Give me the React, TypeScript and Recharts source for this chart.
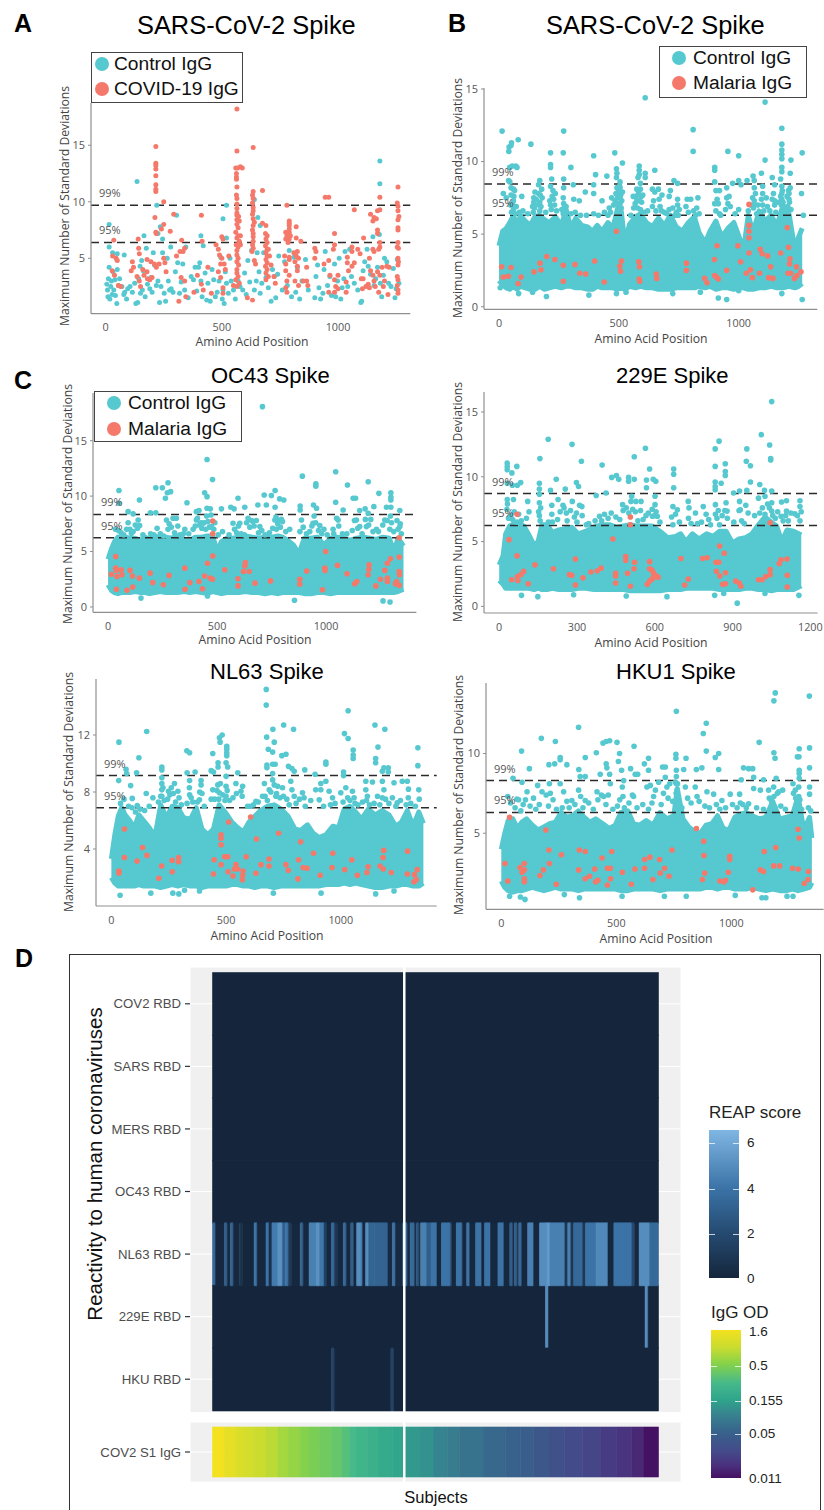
import React from 'react'
import {
  ComposedChart, Scatter, Area, XAxis, YAxis, ReferenceLine,
  BarChart, Bar, Cell, CartesianGrid,
} from 'recharts'

type Pair = [number, number]
type Stop = [number, string]

const TEAL = '#56c8d0'
const RED = '#f5796a'
const SANS = '"Liberation Sans", Arial, sans-serif'
const PLOT_FONT = '"Open Sans", sans-serif'

// ---- panel A, every point readable ----
const aControl: Pair[] = [[15,8],[135,11.8],[220,9.7],[235,7.8],[305,8.8],[505,8.5],[520,9.7],[640,10.2],[655,8.6],[665,7.9],[1180,13.6],[1180,11.6],[1178,7.1],[410,7],[165,7],[225,7.2],[245,6.7],[280,6],[15,6],[30,5.5],[50,5.4],[80,5.3],[520,6.8],[5,2.7],[8,2.2],[10,1.6],[12,3.2],[15,4.2],[18,1.4],[22,2.5],[25,3],[28,1.8],[32,3.8],[35,2.2],[40,3.1],[42,1.7],[48,1],[50,4],[55,2.6],[60,3.2],[70,2.5],[78,1.8],[82,2],[90,1.4],[95,2.3],[105,2.5],[115,2],[125,2.8],[130,1],[138,1.1],[142,3.2],[148,4.3],[150,1.9],[155,4.8],[158,2.2],[162,3.9],[170,1.6],[175,5.9],[180,2.7],[190,2.3],[195,3.3],[200,2],[205,5.5],[210,4.4],[218,2.6],[225,3],[232,1.1],[238,2.5],[245,5.5],[252,1.9],[258,1.2],[265,5],[270,3],[275,2.2],[282,2.3],[290,2],[300,3.8],[310,4.6],[318,1.9],[325,2.9],[332,4.5],[340,2.2],[345,6],[355,1.5],[368,3.4],[378,3.1],[385,4.2],[392,2.1],[400,4.2],[405,4.6],[410,3],[415,1.6],[420,6.1],[428,3.7],[435,1.3],[440,2.8],[450,1.2],[458,4],[465,3.1],[472,1.6],[480,2],[488,3],[495,5.1],[502,1.4],[505,2.2],[510,1],[515,3.8],[520,2.8],[528,1.9],[535,5],[540,3],[550,2.2],[558,1.4],[570,3],[578,2.5],[590,2.2],[598,3.7],[605,1.8],[612,4.8],[620,2.9],[628,5.7],[640,2.2],[648,3],[652,5.5],[660,3.8],[665,1.9],[672,2.8],[680,5.5],[690,3.3],[700,2.4],[712,1.2],[718,4],[725,3.4],[732,1.5],[740,3.6],[745,5.2],[760,2.2],[770,4.7],[782,2.6],[790,5.7],[800,1.6],[810,5.1],[818,2],[825,4.2],[835,1.4],[845,3],[860,4.9],[872,2.2],[900,1.5],[905,3.4],[912,4.4],[918,2.4],[925,1.4],[935,1.9],[940,4],[945,5.6],[955,2.6],[965,3.4],[972,1.7],[985,4.5],[990,1.6],[998,3],[1005,5],[1012,1.4],[1018,2.4],[1025,3.2],[1030,5.6],[1042,2.5],[1050,5.8],[1058,3.4],[1070,2.8],[1085,2.2],[1098,1.1],[1102,1.2],[1108,3.9],[1115,4.7],[1125,5.8],[1130,4.3],[1140,3.6],[1150,6.9],[1155,2.6],[1162,3.2],[1170,4.2],[1182,2.8],[1188,1.6],[1195,3.5],[1200,5],[1210,4.7],[1218,2.8],[1228,2.5],[1238,4.1],[1245,1.5],[1250,2.3],[1255,4.9],[1262,2.8]]
const aCovid: Pair[] = [[216,14.9],[216,13.4],[216,13.2],[216,12.9],[216,12.3],[216,11.5],[216,11.1],[216,10.9],[250,10],[212,8.6],[216,7.3],[218,7.2],[250,8],[240,7.6],[278,7.4],[293,8.9],[327,6.6],[412,8.8],[500,6.9],[505,6.7],[565,18.2],[565,14.5],[560,13],[568,13],[580,13.1],[588,13],[563,12.5],[563,12.2],[563,12],[565,11.3],[563,10.6],[565,10.3],[565,9.8],[565,9.4],[565,9],[565,8.8],[572,8.7],[565,8.4],[575,8.3],[565,8],[570,7.7],[560,7.3],[570,7],[580,7],[565,6.8],[575,6.5],[562,6.2],[570,6],[580,6.2],[565,5.7],[565,5.3],[570,5],[565,4.7],[572,4.4],[565,4],[565,3.7],[570,3.4],[560,3.1],[575,2.8],[550,2.6],[565,2.5],[635,14.8],[635,10.9],[632,10.6],[635,10.3],[632,9.9],[635,9.5],[635,9.2],[632,8.9],[635,8.5],[640,8.2],[635,7.9],[632,7.5],[635,7.2],[635,6.9],[635,6.5],[632,6.2],[635,5.9],[630,5.6],[640,4.8],[645,4.5],[632,1.3],[610,1.5],[675,11],[675,8.1],[690,7.9],[688,7.2],[695,7],[690,6.7],[695,6.4],[688,6.1],[695,5.8],[690,5.5],[695,5.2],[690,4.9],[695,4.6],[688,4.3],[695,4],[690,3.7],[700,3.4],[690,3.1],[700,5.8],[705,5.2],[712,4.4],[725,3.4],[730,2.8],[780,9.7],[790,8.3],[790,8.1],[790,7.9],[790,7.6],[775,7.3],[790,7.3],[780,7],[795,7],[775,6.7],[790,6.7],[785,6.4],[770,5.2],[790,5.1],[775,4.5],[790,4.9],[775,3.9],[790,3.5],[780,3],[775,2.4],[780,2],[820,7.8],[820,6.8],[840,6.5],[810,5.5],[820,5.2],[825,5.6],[815,4.7],[825,4.3],[825,3.9],[830,5],[815,3],[830,2.6],[850,3],[865,3],[870,2.6],[865,4.2],[900,5.9],[905,5.6],[900,5],[945,10.4],[960,10.4],[985,7.2],[985,6.2],[980,5.8],[960,4.8],[940,4.5],[965,3.5],[985,3.1],[990,2.5],[985,2],[1000,2.3],[1000,3.5],[960,2],[1040,5.1],[1040,4.6],[1035,2.9],[1035,2],[1070,9.3],[1060,6],[1085,5.8],[1060,5.6],[1095,5.4],[1100,3.2],[1110,6.8],[1108,3.2],[1105,2.3],[1120,2.5],[1060,4.3],[1045,3.9],[1070,4.6],[1140,8.9],[1155,8.6],[1165,8.5],[1150,8.3],[1170,9.2],[1180,9.3],[1180,10.4],[1170,7.5],[1170,7.2],[1180,6.4],[1180,6],[1175,5.8],[1150,5.8],[1155,5.6],[1135,5],[1140,3.9],[1150,3.5],[1155,3],[1170,3.8],[1180,3.5],[1190,4.2],[1195,2.5],[1200,3],[1210,4.3],[1220,4.2],[1215,1.8],[1160,2.5],[1130,2.7],[1135,2.4],[1175,2],[1258,11.3],[1255,9.9],[1258,9.6],[1258,9.2],[1262,8.7],[1258,8.4],[1258,7.7],[1258,7.5],[1258,6.4],[1255,6],[1260,5.9],[1258,5],[1260,4.7],[1258,4.4],[1255,3.4],[1258,3.1],[1255,2.6],[1258,2.2],[1258,1.9],[35,6.6],[30,5.2],[45,5],[50,4.8],[28,3.9],[38,3.5],[55,2.6],[65,2.5],[110,3.9],[115,4.7],[120,4.2],[140,6.7],[142,5.9],[145,5.4],[135,3.4],[145,3],[150,2.5],[160,4],[165,3.5],[178,4.9],[178,3.8],[180,3.2],[190,3.1],[195,4.7],[200,3.3],[210,4.5],[218,4.2],[230,4.5],[250,5],[255,4.6],[260,3.8],[305,5.2],[320,5.6],[325,3.3],[333,5.6],[340,5.9],[340,3],[315,1.2],[345,1.6],[380,2],[395,3.5],[412,2.7],[415,6.5],[420,2.2],[440,4.2],[455,1.9],[475,6.2],[485,5.8],[490,5.3],[495,4.5],[485,3.8],[495,3.3],[500,5],[505,2.4],[505,1.9],[510,4.5],[515,4],[530,5.2]]

// ---- dense panels: the thousands of overlapping peptides below ~6 SD are a
// range band, the separable points are listed one by one ----
const bBandX = [0,15,30,45,60,75,90,110,130,150,170,190,210,235,260,280,300,320,345,370,390,410,430,455,475,495,510,525,545,570,590,615,640,665,690,715,740,765,790,815,835,860,880,905,930,955,980,1000,1020,1040,1060,1085,1110,1135,1160,1185,1210,1235,1250,1265]
const bBandHigh = [4.2,5.2,5.4,5.8,6.3,5.6,6.3,5.9,5.6,6.2,6.3,6,5.8,6.2,5.6,6.7,5.4,6.1,5.6,5.5,5.2,5.6,5.2,5.8,5.4,6.8,6.6,4.4,5.7,6.2,6.4,5.8,5.5,6.1,5.6,6.3,5.5,5.2,5.8,6.2,5.1,4.4,5.2,5.9,4.8,5.4,5.8,4.9,3.9,6.3,5.1,6.6,5.9,6.3,5.6,7,6.4,3.9,4.8,5.4]
const bBandLow = [1.8,1.5,1.3,1.2,1.4,1.2,1.4,1.3,1.2,1.2,1.4,1.2,1.3,1.4,1.3,1.4,1.4,1.3,1.3,1.2,1.2,1.4,1.3,1.3,1.3,1.2,1.3,1.2,1.4,1.3,1.4,1.3,1.3,1.2,1.2,1.2,1.3,1.3,1.3,1.3,1.4,1.3,1.4,1.2,1.3,1.3,1.2,1.3,1.3,1.2,1.2,1.3,1.3,1.4,1.3,1.3,1.4,1.3,1.4,1.6]
const bControl: Pair[] = [[13,12.1],[41,10.7],[42,11],[50,11.1],[52,11.3],[80,11.5],[133,11.2],[215,10.6],[270,12.1],[268,10.6],[610,14.4],[810,12.2],[810,10.7],[1110,14.1],[1180,12.3],[1180,11.2],[1180,10.8],[1180,10.5],[1180,10.2],[1180,9.6],[1180,9.3],[1218,10.1],[1215,9.2],[1265,10.6],[1110,10.1],[955,10.7],[1000,10.4],[395,10.4],[483,10.6],[515,9.9],[490,9.5],[492,9.2],[585,9.7],[585,9.4],[585,9.1],[610,9.2],[610,8.9],[650,9.4],[300,9.6],[215,9.8],[215,9.6],[220,8.8],[70,9.7],[75,9.6],[45,9.6],[55,9.7],[40,8.7],[45,8.6],[50,8.2],[60,8.1],[65,8],[50,7.7],[18,7.8],[30,7.5],[60,7.3],[95,7.6],[60,6.7],[170,8.7],[165,8.4],[150,7.9],[145,7.5],[145,7.2],[172,7.7],[170,7.2],[215,8.3],[225,8],[235,7.8],[270,8.8],[270,8.2],[268,7.5],[270,7.1],[280,6.9],[310,8.4],[312,7.4],[335,7.3],[360,7.9],[395,8.4],[395,7.8],[403,9.1],[450,9],[430,7.3],[470,7.5],[490,8.9],[505,8.6],[505,8.2],[505,7.9],[505,7.5],[505,7.1],[510,6.8],[460,6.8],[580,8.9],[590,8.5],[590,8.1],[575,8.1],[560,7.6],[600,7.7],[575,7.3],[595,7.2],[640,8.1],[650,7.9],[665,8.1],[680,7.7],[715,8],[710,7.6],[745,8.5],[730,8.7],[710,6.7],[745,7.4],[745,7],[740,6.5],[780,6.9],[785,7.4],[800,7.4],[830,7.5],[825,6.8],[900,9.6],[900,9.4],[900,8.6],[905,8],[920,8],[900,7.1],[915,7.1],[920,6.4],[950,8.2],[950,7.5],[955,7.1],[960,7.6],[975,8.5],[1000,8.7],[1010,8.4],[1000,6.7],[1035,8.7],[1060,9],[1065,8.7],[1065,8.2],[1065,7.3],[1065,7],[1095,9.2],[1100,8.3],[1100,7.8],[1140,8.9],[1150,8.4],[1140,7.4],[1150,7],[1175,8.8],[1180,8.3],[1180,7.8],[1180,7.4],[1215,8.2],[1210,7.8],[1210,7.4],[1205,6.9],[1262,7.8],[1270,6.3],[5,1.3],[82,0.9],[140,1],[198,0.7],[375,0.8],[490,0.9],[530,1],[725,0.9],[840,1],[915,0.6],[950,0.5],[1180,0.9],[1265,0.5],[1000,1.1]]
const bColumns: Pair[] = [[48,7],[52,6.5],[58,7],[62,7.6],[68,6.4],[72,6.9],[85,6.5],[100,6.6],[120,6.4],[140,6.9],[143,6.5],[148,6.8],[152,7],[155,7.4],[165,7.8],[168,7],[170,6.6],[175,6.9],[178,8.1],[180,7.5],[195,6.5],[212,7.3],[215,7],[218,6.7],[222,7.6],[228,7.4],[232,7],[240,6.6],[262,6.7],[268,6.4],[272,6.8],[276,6.3],[300,6.4],[318,6.5],[340,6.3],[365,6.3],[395,6.4],[415,6.3],[440,6.5],[455,6.3],[465,6.5],[478,7],[484,7.3],[488,7.8],[492,8.2],[495,7.5],[498,7.1],[500,8],[503,8.3],[508,7.7],[512,7.3],[515,7.9],[550,6.3],[562,6.8],[568,7.1],[572,7.6],[578,6.8],[582,7.8],[586,7.3],[590,6.7],[594,7.6],[605,6.5],[620,6.6],[640,6.9],[645,7.3],[655,6.6],[668,7.4],[672,6.9],[678,6.6],[690,6.5],[700,6.4],[725,6.8],[735,6.3],[748,6.3],[752,6.7],[790,6.5],[812,6.6],[820,6.3],[835,6.4],[905,6.6],[910,7.4],[925,6.3],[945,6.7],[965,6.9],[985,6.4],[1040,6.6],[1050,7],[1058,7.5],[1062,6.8],[1070,7.8],[1075,6.4],[1080,7],[1095,7.4],[1100,7],[1105,6.6],[1115,7.5],[1120,6.9],[1130,6.6],[1145,7.8],[1150,7.3],[1155,6.5],[1165,7.2],[1175,7.6],[1178,7],[1182,8],[1185,7.2],[1195,6.7],[1202,7.6],[1208,8],[1212,7.2],[1218,6.7]]
const bMalaria: Pair[] = [[11,2.75],[18,2.05],[39,2.1],[50,2.7],[80,1.6],[92,2.05],[146,2.4],[171,3],[175,2.55],[199,3.45],[233,3.25],[268,2.85],[268,1.75],[317,2.9],[337,2.3],[362,2.25],[399,3.15],[439,1.7],[490,5.2],[504,2.8],[511,3.15],[507,2.45],[583,3.1],[586,2.75],[585,1.9],[587,1.75],[656,2.25],[658,1.95],[782,3],[782,2.5],[858,1.95],[868,1.65],[899,3.25],[900,2.15],[907,2.05],[915,1.9],[910,4.2],[950,2.5],[997,4.2],[1008,3.1],[1032,2.3],[1043,7.05],[1043,5.6],[1043,5.2],[1043,4.75],[1043,3.7],[1049,2.55],[1057,2],[1087,2.3],[1090,3.95],[1098,3.65],[1121,3.5],[1125,2],[1133,2.75],[1143,1.95],[1175,3.7],[1203,5.45],[1208,4.1],[1206,2.3],[1214,3.3],[1212,2.95],[1217,2.3],[1233,1.95],[1241,2.75],[1243,2.15],[1260,2.4]]

const cBandX = [0,15,30,45,60,80,100,125,150,170,190,215,240,265,290,320,350,375,400,430,455,480,500,520,545,570,600,630,660,690,720,750,780,800,825,850,875,900,930,960,990,1020,1050,1080,1110,1140,1170,1200,1230,1260,1290,1310,1330,1355]
const cBandHigh = [4.3,5.2,5.9,6.3,6.2,6.3,6.2,6.2,6,6.3,6.1,6.4,6.2,6.3,6.2,6.4,6.1,6,6.3,6.3,6.4,6.4,5,5.9,6.2,6.2,6.3,6.4,6.3,6.2,6.3,6.3,6.4,6.3,6,5.6,4.8,6.2,6.2,6.3,5.6,6.2,6.3,6.2,6,6.2,6.3,6.2,6.1,6.3,6.2,5,6.2,5.5]
const cBandLow = [2,1.5,1.3,1.2,1.3,1.3,1.3,1.4,1.3,1.3,1.2,1.3,1.4,1.3,1.3,1.3,1.4,1.3,1.4,1.3,1.2,1.4,1.3,1.2,1.3,1.3,1.3,1.4,1.3,1.3,1.2,1.3,1.2,1.3,1.3,1.3,1.3,1.2,1.2,1.3,1.3,1.2,1.3,1.3,1.3,1.3,1.3,1.3,1.3,1.3,1.3,1.3,1.4,1.6]
const cControl: Pair[] = [[708,18.07],[454,13.3],[479,11.5],[1044,12.2],[891,11.8],[1193,11.3],[1098,11],[953,11.1],[953,10.9],[50,10.5],[219,10.75],[249,10.75],[275,11.2],[287,10.4],[272,10.3],[263,9.8],[443,10.3],[454,9.95],[716,10.1],[749,10.05],[766,10.5],[787,9.75],[806,9.65],[596,9.8],[1242,10.25],[1297,10.3],[1297,9.9],[1297,9.65],[1124,9.8],[1135,9.8],[1044,9.45],[144,9.65],[50,9.35],[362,9.4],[1219,9.05],[1179,8.85],[1154,8.7],[687,9.2],[726,9.2],[766,9],[627,9],[520,8.85],[563,9],[578,8.85],[881,9.1],[881,8.75],[942,9.2],[956,8.9],[1078,8.75],[1277,9],[1297,9],[92,8.6],[115,8.4],[405,8.6],[417,8.7],[454,8.9],[469,8.85],[194,8.5],[219,8.5],[1193,8.45],[1338,8.7],[34,7],[92,7.6],[138,7.85],[145,7.35],[107,6.65],[268,7.85],[298,8],[313,8],[275,7],[352,7],[405,7.85],[420,7.4],[436,7.55],[474,7.25],[573,7.55],[604,7.55],[642,8],[665,7.7],[696,7.25],[765,7.85],[795,7.9],[772,7],[833,7],[887,7.85],[940,7.55],[971,7.35],[1032,7],[1055,7.85],[1139,7.85],[1154,7.25],[1185,7.25],[1231,7],[1269,7.85],[1292,7],[1338,7.25],[151,0.8],[855,0.6],[1261,0.55],[1293,0.45],[456,1]]
const cColumns: Pair[] = [[48,6.9],[60,6.7],[72,6.5],[85,7],[100,7],[115,6.8],[125,7.4],[135,7.1],[160,6.5],[195,6.6],[210,6.5],[225,7.1],[240,6.6],[255,6.4],[280,7.5],[290,7.2],[305,6.7],[320,7.3],[330,6.5],[345,6.6],[370,6.6],[390,7],[400,7.3],[410,8],[425,7.6],[430,7.1],[440,7.6],[448,7],[452,8.2],[458,7.7],[465,7.2],[472,8.3],[485,7],[490,7.6],[505,6.5],[525,6.8],[555,6.5],[580,7],[590,6.7],[598,7.3],[610,6.6],[625,6.5],[635,7.6],[650,7.2],[658,7.8],[670,7.3],[680,7.8],[690,6.7],[705,6.9],[720,6.5],[740,6.7],[755,7.1],[770,8.1],[778,7.5],[785,7.8],[790,7.2],[800,7.7],[815,6.8],[880,6.8],[895,7.2],[910,6.6],[925,6.8],[935,7.3],[945,8.2],[952,7.6],[965,6.9],[980,6.6],[990,7],[1005,6.5],[1035,6.6],[1048,8],[1058,7.3],[1075,6.6],[1095,6.6],[1120,6.9],[1130,7.8],[1145,7.1],[1165,6.6],[1180,7.9],[1195,7.4],[1205,7.9],[1215,6.8],[1240,6.8],[1260,7.4],[1280,7.8],[1295,8.2],[1300,7.6],[1310,6.8],[1325,7.8],[1330,7],[1340,7.5],[1345,6.6]]
const cMalaria: Pair[] = [[15,2.95],[35,4.55],[35,3.5],[38,3.3],[41,2.75],[38,1.6],[60,3.35],[64,2.9],[87,1.5],[101,3.3],[112,2.8],[113,1.8],[144,2.6],[193,3.05],[205,2.2],[254,2],[280,2.85],[352,3.5],[353,1.6],[375,2.2],[417,2.3],[433,1.65],[443,2.8],[456,3.95],[469,2.6],[479,2.5],[480,7.75],[480,6.6],[480,4.6],[535,3.35],[596,2.55],[596,1.9],[630,4],[627,3.7],[621,3.2],[647,3.2],[674,2.15],[745,2.35],[879,2.5],[879,2.05],[911,3.25],[983,1.55],[994,3.5],[995,3.3],[998,5],[1052,3.75],[1096,3],[1131,2.1],[1141,2.3],[1193,2.9],[1196,3.4],[1197,3.8],[1228,1.9],[1249,2.5],[1269,3.3],[1281,3.95],[1281,2.6],[1281,2.3],[1295,4.35],[1323,2.3],[1318,2.1],[1335,6.25],[1335,4.5],[1335,3.2],[1336,2.9],[1335,1.95]]

const eBandX = [0,15,25,40,60,75,95,115,135,150,165,185,205,230,255,280,305,335,365,395,425,455,480,505,530,560,590,620,650,680,700,720,745,770,800,825,850,875,900,925,950,975,1000,1025,1050,1070,1090,1110,1135,1165]
const eBandHigh = [3.2,3.9,5.6,6.2,6.4,6.3,6.2,5.5,4.7,5,6.3,6.3,5.7,5.9,6,6.1,5.6,5.8,6.1,6.3,6.3,6.1,6.2,6.3,6.2,6.2,6.2,5.8,5.3,5.4,5.6,5,5.6,5.2,5.6,5.4,5.8,5.8,4.9,5.2,5.3,5.6,6.3,6.9,6.5,6.2,5,5.9,5.8,5.5]
const eBandLow = [2,1.7,1.4,1.4,1.4,1.4,1.4,1.4,1.3,1.4,1.3,1.3,1.4,1.3,1.3,1.3,1.4,1.4,1.3,1.3,1.3,1.3,1.3,1.2,1.2,1.2,1.2,1.2,1.3,1.3,1.3,1.4,1.4,1.4,1.4,1.4,1.3,1.3,1.3,1.3,1.4,1.4,1.3,1.3,1.2,1.3,1.3,1.3,1.3,1.6]
const eControl: Pair[] = [[1051,15.8],[1011,13.25],[848,12.75],[833,12.15],[1043,12.45],[955,12.15],[281,12.5],[189,12.9],[564,12.2],[521,11.55],[157,11.4],[317,11.2],[397,10.9],[1047,11.4],[1047,11.3],[953,11.2],[969,10.85],[31,11.05],[31,10.8],[31,10.55],[68,10.8],[49,10.3],[580,10.6],[673,10.6],[673,10.2],[833,10.8],[872,11],[872,10.4],[872,10.1],[434,9.95],[452,10.1],[461,9.8],[499,9.95],[499,9.65],[521,9.8],[568,9.75],[594,9.8],[604,9.65],[220,9.8],[298,9.55],[306,9.25],[255,9.05],[83,9.55],[70,9.35],[51,9.35],[31,9.5],[155,9.5],[155,9.05],[155,8.65],[673,9.15],[833,9.6],[833,9.25],[833,9],[856,9.5],[969,9.6],[1005,9.4],[1023,8.95],[1051,8.9],[904,8.75],[927,8.9],[955,8.95],[568,9.15],[412,8.75],[198,8.95],[31,8.25],[55,8.25],[110,8.1],[155,8],[203,7.8],[203,7.1],[227,8.25],[246,7.8],[282,8.1],[310,7.8],[319,7.7],[259,7.2],[298,7.2],[374,8.55],[336,6.3],[387,6.95],[406,7.1],[432,7.2],[476,7.85],[511,8.5],[527,8.1],[547,8.1],[566,7],[601,7.85],[601,8.5],[591,6.95],[610,6.95],[670,7.7],[687,7.45],[729,8.1],[732,7.6],[757,7.2],[787,7.7],[798,7.1],[808,6.7],[834,7.1],[834,7.85],[875,8],[879,7.35],[927,8.1],[930,7.45],[951,7.8],[1000,8.35],[1025,8.5],[1051,8],[1051,7.35],[1089,8.05],[1108,8.15],[1160,8.15],[1160,7.7],[1140,7.15],[1108,7.35],[1087,6.95],[1074,7.3],[86,0.85],[149,0.75],[287,0.9],[490,0.8],[647,0.75],[831,0.85],[918,0.25],[866,1],[1156,0.85],[1025,1]]
const eColumns: Pair[] = [[30,7.5],[32,7.9],[36,6.8],[45,7],[52,6.7],[58,7.3],[68,6.5],[75,7.1],[85,6.6],[105,6.8],[115,7.3],[152,7.3],[155,7],[158,6.6],[160,7.6],[190,6.5],[205,6.5],[225,6.7],[235,7.3],[250,7.6],[262,6.6],[275,7.4],[290,6.9],[300,6.5],[320,7],[345,6.4],[370,6.6],[395,6.6],[420,6.8],[450,6.9],[465,6.7],[478,7.4],[490,7.6],[500,7.2],[508,8.1],[515,7.5],[525,7.3],[535,6.6],[545,7.4],[555,6.7],[575,7.2],[590,7.5],[600,7],[605,7.3],[620,6.5],[665,6.9],[670,6.3],[680,7.1],[695,6.5],[730,6.8],[740,6.4],[765,6.4],[780,6.5],[815,6.3],[840,6.8],[845,7.4],[850,6.3],[860,7],[870,7.4],[880,6.8],[905,6.5],[925,7.4],[935,6.6],[945,6.4],[960,7.2],[985,7],[1005,7.2],[1015,7.6],[1025,7.1],[1035,7.9],[1042,7.6],[1055,7],[1065,6.8],[1095,6.6],[1105,7],[1115,6.6],[1125,7.2],[1150,7],[1165,7.3],[1160,6.6]]
const eMalaria: Pair[] = [[38,5.15],[48,2.05],[69,7.1],[69,3.9],[70,2.3],[72,2],[84,2.45],[94,2.7],[112,1.75],[138,3.2],[209,2.9],[271,2.45],[280,2.4],[294,3.65],[294,1.65],[323,2.2],[354,2.65],[378,2.75],[393,2.95],[438,5.2],[449,2.55],[449,2.35],[449,1.8],[488,3.85],[488,3.55],[495,2.55],[506,6.9],[506,6.3],[506,1.55],[520,2.9],[522,3.4],[571,1.7],[580,3.45],[580,2.9],[580,1.95],[589,2.8],[587,2.05],[595,2.6],[594,2.2],[598,2.4],[607,2.35],[613,2.25],[701,3.7],[715,1.65],[729,2.1],[784,3.7],[802,3.75],[836,3.4],[838,2.7],[847,3.4],[850,4.65],[851,2.35],[862,1.7],[868,4.1],[873,2.6],[873,1.75],[912,1.95],[926,1.8],[932,1.55],[1000,2.05],[1014,2.05],[1028,2.3],[1045,2.85],[1045,2.45],[1045,6.45],[1080,3.3],[1087,3.6],[1110,3.65],[1111,2.4],[1111,1.5]]

const nBandX = [0,15,30,45,60,80,100,120,140,165,190,215,240,265,290,315,345,370,395,420,445,470,500,525,550,575,600,625,650,680,710,740,770,800,825,855,880,905,935,965,990,1015,1040,1065,1090,1120,1150,1180,1210,1240,1265,1290,1315,1340,1360]
const nBandHigh = [3.3,5,6.3,6.9,6.4,6,5.5,6.4,6,5.5,4.9,7.1,6.2,7,6.9,6.2,6.1,6.9,5.4,5,5.4,7.1,6.5,5.9,5.5,5.2,5.9,6.3,6.7,7,7.1,6.8,6.3,5.4,5.3,5.7,5.1,4.8,5,5.6,5.5,6.8,7,6.6,6.1,6.8,6.4,6.7,6.4,5.6,5.9,6.7,5.6,6.6,5.8]
const nBandLow = [2,1.6,1.4,1.4,1.4,1.4,1.4,1.5,1.4,1.4,1.4,1.3,1.4,1.5,1.4,1.5,1.4,1.4,1.3,1.4,1.4,1.4,1.4,1.5,1.5,1.4,1.4,1.3,1.4,1.4,1.3,1.4,1.4,1.4,1.4,1.4,1.4,1.4,1.5,1.5,1.5,1.6,1.5,1.6,1.5,1.4,1.3,1.3,1.4,1.4,1.5,1.5,1.4,1.4,1.6]
const nControl: Pair[] = [[675,15.2],[675,14.1],[1032,13.7],[751,12.7],[1149,12.7],[1192,12.4],[794,12.4],[704,12.4],[154,12.25],[33,11.5],[483,12],[471,11.8],[474,11.5],[503,11.2],[503,11],[503,10.75],[503,10.55],[677,11.85],[710,11.5],[684,11],[703,10.8],[743,10.55],[761,10.65],[1016,12.1],[1032,11.75],[1054,10.95],[1054,10.6],[1054,10.35],[1162,11.15],[1152,10.35],[1152,10.05],[1336,11.1],[329,10.9],[341,10.75],[120,10.4],[442,10.7],[465,10.05],[465,9.75],[500,10.05],[507,9.75],[678,9.9],[678,9.7],[703,9.95],[714,9.95],[935,10.1],[935,9.95],[772,9.8],[787,9.65],[797,9.45],[843,9.55],[220,9.75],[220,9.55],[64,9.6],[67,9.3],[110,9.35],[330,9.35],[365,9.4],[435,9.5],[445,9.4],[551,9.35],[703,9.3],[888,9.25],[1012,9.4],[1012,9.15],[1181,9.45],[1188,9.7],[1207,9.7],[1207,9.4],[1336,9.85],[32,8.8],[84,8.45],[91,7.55],[113,7.05],[152,7.9],[181,7.6],[220,9],[220,8.6],[220,8.15],[220,7.7],[249,8.05],[261,8.3],[275,8.6],[290,8.05],[341,8.8],[341,7.8],[348,7.6],[391,8.8],[391,8.5],[384,7.45],[442,8.15],[464,8.5],[471,7.95],[500,9.1],[500,8.4],[500,7.7],[543,8.6],[572,8.4],[565,8.05],[594,7],[630,7.35],[659,7.7],[667,8.6],[688,8.15],[703,8.85],[725,8.4],[746,8.3],[717,7.7],[782,8.75],[787,8.15],[797,7.7],[833,7.95],[840,7.6],[869,7.4],[891,8.15],[913,8.15],[906,7.45],[913,8.6],[935,8.75],[949,8.05],[964,7.6],[1000,7.95],[1022,8.3],[1051,8.05],[1058,7.6],[1109,8.75],[1109,8.15],[1116,7.7],[1138,8.7],[1181,8.75],[1188,8.15],[1181,7.6],[1232,8.65],[1246,7.25],[1268,8.75],[1290,8.75],[1294,7.6],[1340,8.15],[38,0.75],[172,0.9],[268,0.9],[294,0.85],[319,1.1],[706,0.9],[914,0.9],[1152,0.85],[1232,1.05],[384,1.05]]
const nColumns: Pair[] = [[40,7.2],[55,7.5],[75,7],[90,6.9],[105,6.6],[125,6.8],[145,6.7],[165,7],[205,7.3],[215,7.7],[225,8.3],[230,7.4],[245,7.5],[255,7.8],[270,7.9],[280,7.3],[295,7.6],[305,7.1],[330,7.2],[340,8.3],[355,7.3],[375,7.3],[385,8],[395,7.9],[405,7],[435,7.5],[450,7.5],[460,8.1],[468,7.5],[475,8.6],[485,7.8],[495,7.4],[505,8.1],[515,7.4],[530,7.6],[545,7.9],[570,7.7],[605,7],[620,7.1],[640,7.3],[670,7.7],[680,7.4],[695,8],[710,8.5],[720,7.9],[735,7.6],[750,7.7],[765,7.5],[775,7.1],[805,7.2],[820,7.5],[845,7],[925,7],[955,7.1],[975,7.2],[1010,7.3],[1030,7.6],[1040,7.4],[1062,7.2],[1075,7.1],[1095,7.3],[1112,7.4],[1125,7.1],[1145,7.2],[1160,7.7],[1170,7.1],[1195,7.5],[1210,7.2],[1225,7.6],[1240,7],[1260,7.4],[1285,7.1],[1295,8.2],[1305,7.2],[1325,7],[1342,7.5]]
const nMalaria: Pair[] = [[57,5.4],[33,2.45],[33,2.3],[57,3.4],[112,3.15],[136,4.1],[155,3.55],[207,1.95],[219,2.8],[265,3.2],[265,2.4],[293,3.4],[293,3.1],[448,3.25],[445,2.25],[478,5],[478,4.75],[478,4.3],[478,2.9],[494,3.45],[507,3.45],[511,5.9],[509,2.4],[530,2.1],[543,2.9],[536,2.6],[550,2.6],[574,2.45],[572,2.15],[571,1.85],[588,3.45],[607,6.25],[632,4.7],[630,2.3],[652,2.9],[687,3.3],[687,2.8],[729,5.1],[761,2.9],[771,2.5],[816,3.25],[813,1.9],[825,4.5],[836,2.7],[853,2.65],[881,3.7],[910,2.15],[965,3.7],[962,2.7],[1017,2.55],[1048,3.25],[1072,2.15],[1119,2.75],[1114,2.35],[1171,2.8],[1184,3.4],[1187,3.9],[1185,2.6],[1220,2.35],[1291,3.85],[1290,2.25],[1321,2.2],[1333,2.55],[1329,1.85],[1319,1.7]]

const hBandX = [0,15,30,50,70,90,110,135,160,185,210,235,260,285,310,335,360,385,410,440,470,495,520,550,575,600,630,660,690,720,750,765,790,815,840,865,890,915,940,965,990,1015,1040,1065,1090,1120,1150,1180,1210,1240,1265,1290,1315,1340,1350]
const hBandHigh = [4,5,5.8,5.9,5.3,5.7,5.9,5.5,5.2,5.4,5.6,5.7,6.3,6,6.1,6.4,6,5.7,5.9,5.6,5.3,5.5,6.3,6.4,5.6,5.5,5.8,5.5,6.3,5.9,6.1,7.8,5.9,5.4,5.1,5,5.5,5.6,6.1,5.3,5.2,6,6.2,6.3,6.1,5.9,6,7,5.9,6,6.1,7.3,5.2,6,4.7]
const hBandLow = [2,1.6,1.4,1.3,1.4,1.4,1.5,1.6,1.5,1.4,1.5,1.6,1.5,1.5,1.5,1.4,1.5,1.5,1.5,1.5,1.5,1.5,1.4,1.4,1.5,1.5,1.5,1.5,1.4,1.5,1.5,1.5,1.5,1.5,1.5,1.5,1.6,1.6,1.5,1.6,1.6,1.5,1.5,1.5,1.6,1.5,1.4,1.5,1.4,1.4,1.5,1.4,1.5,1.6,1.9]
const hControl: Pair[] = [[1191,13.8],[1185,13.3],[1339,13.6],[761,12.65],[336,11.65],[891,11.9],[878,11.25],[174,10.95],[235,10.75],[442,10.65],[456,10.75],[471,10.8],[503,10.7],[577,10.45],[413,10.05],[88,10.15],[514,10],[509,9.5],[1185,10.05],[1190,9.7],[1295,10.3],[1340,10.35],[1121,10.7],[891,10.15],[256,9.75],[256,9.6],[365,9.75],[759,9.95],[759,9.7],[803,9.7],[640,9.7],[622,9.35],[945,10],[930,9.75],[945,9],[1287,9.8],[1294,9.8],[456,9.35],[459,9.1],[207,9.3],[232,9.35],[285,9.3],[122,9.05],[337,9],[523,8.95],[562,9.05],[582,8.7],[593,8.7],[640,8.95],[701,9.15],[713,9.15],[793,9],[848,9],[872,9.1],[1053,9.1],[1075,9.05],[1093,9.05],[1295,8.95],[1295,8.75],[1340,9.1],[430,8.7],[471,8.7],[761,8.95],[761,8.55],[51,8.45],[90,8.2],[343,8.55],[365,8.55],[532,8.3],[713,8.5],[1043,8.35],[1097,8.5],[1140,8.35],[1195,8.45],[1295,8.45],[28,7.3],[68,7.15],[112,7.6],[158,8],[177,7.6],[209,8.1],[213,7.5],[256,8.1],[271,7.6],[307,7.05],[336,7.7],[365,7.05],[416,7.6],[445,7.3],[474,8.1],[526,7.9],[529,7.3],[575,7.3],[633,7.9],[648,8],[662,7.3],[684,8.2],[720,7.9],[732,8.1],[761,8.1],[764,7.7],[771,6.85],[800,7.9],[843,7.9],[851,7.3],[894,7.6],[923,7.45],[959,7.05],[995,7.45],[1036,7.45],[1039,6.9],[1075,6.85],[1097,7.8],[1126,7.7],[1162,7.7],[1184,7.9],[1206,7.6],[1223,7.7],[1268,8.1],[1278,7.7],[1293,7.9],[1293,7.3],[1340,7.9],[1340,7.45],[36,1.05],[83,1],[103,0.85],[274,1.15],[340,0.95],[525,1.05],[709,1.05],[804,1.05],[1017,1.1],[1133,0.95],[1150,0.95],[1242,1.05],[1268,1.05]]
const hColumns: Pair[] = [[40,6.9],[60,6.6],[75,7.1],[85,6.4],[95,6.8],[105,7.1],[125,6.7],[140,7.2],[150,6.5],[165,6.8],[195,7.4],[205,6.7],[225,7.1],[240,6.5],[265,6.6],[285,7],[295,6.6],[320,6.8],[345,7.3],[355,6.6],[380,6.9],[400,6.5],[420,7.1],[435,7.4],[455,6.8],[465,7.4],[485,6.5],[505,6.7],[515,7.1],[535,6.6],[555,6.9],[570,7.4],[590,6.6],[615,6.8],[640,6.5],[655,6.9],[670,7.7],[695,6.8],[705,7.5],[725,7.2],[745,7],[757,8.2],[760,7.5],[766,8.1],[785,6.6],[810,7.2],[825,6.9],[860,7],[885,6.7],[905,6.6],[935,6.8],[950,6.5],[975,6.6],[1005,6.8],[1025,6.6],[1050,6.8],[1065,6.6],[1110,6.6],[1140,6.5],[1165,7.2],[1175,7],[1185,7.3],[1190,6.6],[1200,7.5],[1215,6.7],[1235,6.5],[1270,7.5],[1280,7.2],[1285,6.8],[1298,7.1],[1305,6.5],[1335,6.6],[1345,6.4]]
const hMalaria: Pair[] = [[16,3.1],[28,2],[36,6],[81,2.85],[90,2.55],[100,3.1],[100,2.7],[100,2.15],[100,1.95],[168,2.35],[183,2.7],[194,5.2],[207,3.95],[209,3.1],[239,1.8],[261,3.65],[336,2.7],[339,3.95],[365,3.85],[365,2.15],[384,2.3],[406,2.75],[410,1.95],[420,2.05],[438,3.45],[461,1.75],[461,2.8],[474,2.8],[475,2.15],[480,3.85],[526,2.55],[565,1.8],[581,2.75],[623,3.35],[623,2.8],[646,3.5],[659,2.1],[688,3.35],[691,2.5],[710,2.8],[729,2.3],[742,3.95],[848,5.3],[874,2.1],[880,4.5],[881,3.6],[884,2.5],[950,2],[969,1.95],[974,2.05],[987,2.55],[993,3.55],[993,3.35],[1093,1.45],[1126,2.7],[1140,2.6],[1143,3.85],[1184,2.95],[1193,4.1],[1210,2.95],[1266,2.8],[1290,5.25],[1291,2.75],[1295,4.7],[1317,1.85],[1335,2.6],[1333,2.1]]

// ---- panel D ----
const rbdRows = ['COV2 RBD', 'SARS RBD', 'MERS RBD', 'OC43 RBD', 'NL63 RBD', '229E RBD', 'HKU RBD']
const emptyRuns: Pair[] = [[300, 0]]
// [subjects in the run, REAP score], left to right
const nl63Runs: Pair[] = [[2,3.5],[6,0.1],[2,3],[2,0.1],[2,3.2],[4,0.1],[2,0.8],[8,0.05],[2,4],[6,0.1],[2,4],[2,0.6],[4,4.3],[3,5.2],[2,3],[2,4],[2,1.2],[6,0.1],[2,3.2],[4,0.1],[5,4.5],[2,5.2],[3,4.2],[2,1.5],[3,0.1],[2,3.5],[2,1],[4,0.1],[2,3.5],[3,0.1],[2,3],[2,0.1],[3,5],[1,4],[2,0.1],[2,5],[4,3.3],[9,3.2],[3,0.2],[2,4],[5,0.2],[3,4],[2,0.3],[3,3.5],[1,0.1],[2,2.5],[1,0.1],[4,4.5],[3,3],[4,4],[3,0.1],[6,4],[1,2],[3,0.1],[4,4],[3,0.1],[2,4],[4,0.1],[4,4],[2,0.1],[4,4],[5,0.1],[4,4],[4,0.1],[2,3],[1,0.1],[2,3],[1,0.1],[2,3.5],[4,0.1],[4,4.5],[4,0.1],[5,5],[2,5.5],[10,4.5],[2,1],[2,4.5],[2,1],[6,3.5],[2,1],[7,4],[8,4.8],[4,0.1],[12,4],[2,2],[3,0.1],[7,5],[6,3.5]]
const e229Runs: Pair[] = [[224,0],[2,5],[65,0],[2,5],[7,0]]
const hkuRuns: Pair[] = [[80,0],[2,1.6],[38,0],[2,1.6],[178,0]]
const rowRuns = [emptyRuns, emptyRuns, emptyRuns, emptyRuns, nl63Runs, e229Runs, hkuRuns]
// [subjects in the run, IgG OD], subjects sorted by OD
const odRuns: Pair[] = [[8,1.6],[8,1.3],[6,1.12],[6,1.02],[8,0.92],[8,0.8],[7,0.66],[8,0.58],[6,0.5],[7,0.46],[8,0.41],[7,0.37],[5,0.32],[4,0.27],[8,0.24],[8,0.21],[9,0.18],[8,0.16],[10,0.13],[10,0.115],[9,0.095],[8,0.085],[16,0.07],[15,0.058],[10,0.05],[9,0.046],[11,0.038],[10,0.033],[12,0.028],[12,0.025],[11,0.021],[10,0.018],[8,0.015],[10,0.011]]
const subjectTicks = [0, 47, 95, 142, 190, 237, 284]
const groupBreak = 129

const reapStops: Stop[] = [[0,'#15263c'],[0.3,'#254a70'],[0.6,'#3a72a6'],[1,'#7fb6e3']]
const reapMax = 6.6
const reapTicks = ['6', '4', '2', '0']
const odStops: Stop[] = [[0,'#f4e11f'],[0.12,'#c8dc30'],[0.23,'#85d24a'],[0.36,'#45b98a'],[0.47,'#2fa58c'],[0.58,'#37808f'],[0.7,'#38608b'],[0.82,'#444a8a'],[0.92,'#4a2f7c'],[1,'#451162']]
const odTicks = ['1.6', '0.5', '0.155', '0.05', '0.011']

const rgb = (h: string) => [1, 3, 5].map(i => parseInt(h.slice(i, i + 2), 16))
const mix = (a: string, b: string, t: number) => {
  const ca = rgb(a), cb = rgb(b)
  return `rgb(${ca.map((v, i) => Math.round(v + (cb[i] - v) * t)).join(',')})`
}
const ramp = (stops: Stop[], t: number) => {
  for (let i = 1; i < stops.length; i++) {
    if (t <= stops[i][0]) {
      const [t0, c0] = stops[i - 1]
      const [t1, c1] = stops[i]
      return mix(c0, c1, (t - t0) / (t1 - t0))
    }
  }
  return stops[stops.length - 1][1]
}
const reapColor = (s: number) => ramp(reapStops, s / reapMax)
const odColor = (od: number) => ramp(odStops, Math.log(1.6 / od) / Math.log(1.6 / 0.011))
const cssGradient = (stops: Stop[], dir: string) =>
  `linear-gradient(${dir}, ${stops.map(([t, c]) => `${c} ${t * 100}%`).join(', ')})`

const pts = (list: Pair[]) => list.map(([x, y]) => ({ x, y }))
const band = (xs: number[], low: number[], high: number[]) =>
  xs.map((x, i) => ({ x, band: [low[i], high[i]] }))
const Dot = (color: string, r: number) => (p: any) => <circle cx={p.cx} cy={p.cy} r={r} fill={color} />

const abs = (left: number, top: number): React.CSSProperties => ({ position: 'absolute', left, top })

function Text({ x, y, size, children, bold, color }: any) {
  return (
    <div style={{ ...abs(x, y - size), fontSize: size, lineHeight: `${size * 1.2}px`, fontFamily: SANS, fontWeight: bold ? 700 : 400, color: color ?? '#000', whiteSpace: 'nowrap' }}>
      {children}
    </div>
  )
}

function Legend({ x, y, w, h, dotX, textX, second, dy1, dy2 }: any) {
  const row = (cy: number, color: string, label: string) => (
    <React.Fragment key={label}>
      <div style={{ ...abs(dotX - 7, cy - 7), width: 14, height: 14, borderRadius: 7, background: color }} />
      <div style={{ ...abs(textX, cy - 12), fontSize: 19.2, lineHeight: '24px', fontFamily: SANS, color: '#111', whiteSpace: 'nowrap' }}>{label}</div>
    </React.Fragment>
  )
  return (
    <>
      <div style={{ ...abs(x, y), width: w, height: h, boxSizing: 'border-box', border: '1.5px solid #444', background: '#fff' }} />
      {row(dy1, TEAL, 'Control IgG')}
      {row(dy2, RED, second)}
    </>
  )
}

function Scatterplot({ plot, xDomain, yDomain, xTicks, yTicks, q99, q95, control, other, bandData, xTitle, yTitle, r = 2.8 }: any) {
  const [left, top, right, bottom] = plot
  const labelStyle = { fontSize: 11, fill: '#555', fontFamily: PLOT_FONT }
  const titleStyle: React.CSSProperties = { fontSize: 12.2, fontFamily: PLOT_FONT, color: '#444', whiteSpace: 'nowrap' }
  return (
    <>
      <div style={{ ...abs(left - 40, top - 6) }}>
        <ComposedChart width={right - left + 48} height={bottom - top + 30} margin={{ top: 6, right: 8, bottom: 0, left: 0 }}>
          <XAxis
            type="number" dataKey="x" domain={xDomain} ticks={xTicks} allowDataOverflow interval={0}
            height={24} tick={{ fontSize: 10.8, fill: '#555', fontFamily: PLOT_FONT }} tickLine={false} tickMargin={4}
            axisLine={{ stroke: '#8f8f8f', strokeWidth: 1.2 }}
          />
          <YAxis
            type="number" dataKey="y" domain={yDomain} ticks={yTicks} allowDataOverflow interval={0}
            width={40} tick={{ fontSize: 11, fill: '#555', fontFamily: PLOT_FONT }} tickSize={3} tickMargin={3}
            tickLine={{ stroke: '#8f8f8f' }} axisLine={{ stroke: '#8f8f8f', strokeWidth: 1.2 }}
          />
          {bandData && (
            <Area
              data={bandData} dataKey="band" type="linear" fill={TEAL} fillOpacity={1}
              stroke={TEAL} strokeWidth={5} strokeLinejoin="round" dot={false} activeDot={false} isAnimationActive={false}
            />
          )}
          <Scatter data={pts(control)} fill={TEAL} shape={Dot(TEAL, r)} isAnimationActive={false} />
          <Scatter data={pts(other)} fill={RED} shape={Dot(RED, r)} isAnimationActive={false} />
          <ReferenceLine y={q99} stroke="#2a2a2a" strokeWidth={1.5} strokeDasharray="8 5"
            label={{ value: '99%', position: 'insideBottomLeft', offset: 8, ...labelStyle }} />
          <ReferenceLine y={q95} stroke="#2a2a2a" strokeWidth={1.5} strokeDasharray="8 5"
            label={{ value: '95%', position: 'insideBottomLeft', offset: 8, ...labelStyle }} />
        </ComposedChart>
      </div>
      <div style={{ ...abs(xTitle[0], xTitle[1]), ...titleStyle, transform: 'translate(-50%,-50%)' }}>Amino Acid Position</div>
      <div style={{ ...abs(yTitle[0], yTitle[1]), ...titleStyle, transform: 'translate(-50%,-50%) rotate(-90deg)' }}>Maximum Number of Standard Deviations</div>
    </>
  )
}

function RunChart({ top, height, rows, runs, color, gap, padding }: any) {
  const n = 300
  const pad = n * 22.5 / 446
  const maxRuns = Math.max(...runs.map((r: Pair[]) => r.length))
  const data = rows.map((row: string, i: number) => {
    const d: any = { row }
    runs[i].forEach((r: Pair, k: number) => { d[`seg${k}`] = r[0] })
    return d
  })
  return (
    <div style={abs(70, top)}>
      <BarChart width={611} height={height} data={data} layout="vertical" barCategoryGap={gap} margin={{ top: 0, right: 0, bottom: 0, left: 0 }}>
        <CartesianGrid fill="#f0f0f0" stroke="#ffffff" strokeWidth={1} />
        <XAxis type="number" domain={[-pad, n + pad]} ticks={subjectTicks} allowDataOverflow height={0} tick={false} tickLine={false} axisLine={false} />
        <YAxis
          type="category" dataKey="row" width={120} padding={padding} interval={0}
          tick={{ fontSize: 13.2, fill: '#4d4d4d', fontFamily: SANS }} tickSize={5} tickMargin={4}
          tickLine={{ stroke: '#333', strokeWidth: 1.2 }} axisLine={false}
        />
        {Array.from({ length: maxRuns }, (_, k) => (
          <Bar key={k} dataKey={`seg${k}`} stackId="a" isAnimationActive={false}>
            {rows.map((row: string, i: number) => {
              const fill = runs[i][k] ? color(runs[i][k][1]) : 'none'
              return <Cell key={row} fill={fill} stroke={fill} strokeWidth={0.6} />
            })}
          </Bar>
        ))}
        <ReferenceLine x={groupBreak} stroke="#ffffff" strokeWidth={2.5} />
      </BarChart>
    </div>
  )
}

function ColorBar({ x, y, w, h, gradient, title, titleX, titleY, ticks, tickYs, labelX, marked }: any) {
  return (
    <>
      <Text x={titleX} y={titleY} size={17} color="#222">{title}</Text>
      <div style={{ ...abs(x, y), width: w, height: h, background: gradient }} />
      {ticks.map((t: string, i: number) => (
        <React.Fragment key={t}>
          {marked[i] ? (
            <>
              <div style={{ ...abs(x, tickYs[i]), width: 6, height: 1, background: 'rgba(255,255,255,0.75)' }} />
              <div style={{ ...abs(x + w - 6, tickYs[i]), width: 6, height: 1, background: 'rgba(255,255,255,0.75)' }} />
            </>
          ) : null}
          <div style={{ ...abs(labelX, tickYs[i] - 9), fontSize: 13.5, lineHeight: '18px', fontFamily: SANS, color: '#222' }}>{t}</div>
        </React.Fragment>
      ))}
    </>
  )
}

export default function App() {
  return (
    <div style={{ ...abs(0, 0), width: 824, height: 1510, overflow: 'hidden', background: '#fff' }}>
      <Text x={14} y={33} size={25} bold>A</Text>
      <Text x={448} y={33} size={25} bold>B</Text>
      <Text x={14} y={390} size={25} bold>C</Text>
      <Text x={15} y={968} size={25} bold>D</Text>

      <Text x={137} y={35} size={25.4}>SARS-CoV-2 Spike</Text>
      <Text x={546} y={35} size={25.4}>SARS-CoV-2 Spike</Text>
      <Text x={211} y={385} size={22}>OC43 Spike</Text>
      <Text x={616} y={385} size={22}>229E Spike</Text>
      <Text x={210} y={681} size={22}>NL63 Spike</Text>
      <Text x={616} y={681} size={22}>HKU1 Spike</Text>

      <Scatterplot plot={[90.7, 103, 410, 313.7]} xDomain={[-63, 1311]} yDomain={[0.1, 18.74]} xTicks={[0, 500, 1000]} yTicks={[5, 10, 15]}
        q99={9.7} q95={6.4} control={aControl} other={aCovid} xTitle={[252, 341]} yTitle={[64, 206]} r={2.5} />
      <Scatterplot plot={[484, 88, 817.3, 309.3]} xDomain={[-62.6, 1328]} yDomain={[-0.18, 15.07]} xTicks={[0, 500, 1000]} yTicks={[0, 5, 10, 15]}
        q99={8.45} q95={6.3} control={[...bColumns, ...bControl]} other={bMalaria} bandData={band(bBandX, bBandLow, bBandHigh)} xTitle={[651, 338]} yTitle={[457, 198]} />
      <Scatterplot plot={[93.3, 393, 416.7, 612.3]} xDomain={[-69, 1414]} yDomain={[-0.48, 19.3]} xTicks={[0, 500, 1000]} yTicks={[0, 5, 10, 15]}
        q99={8.35} q95={6.25} control={[...cColumns, ...cControl]} other={cMalaria} bandData={band(cBandX, cBandLow, cBandHigh)} xTitle={[255, 639]} yTitle={[67, 504]} />
      <Scatterplot plot={[483.7, 392.3, 817.3, 613.3]} xDomain={[-58.6, 1228]} yDomain={[-0.51, 16.54]} xTicks={[0, 300, 600, 900, 1200]} yTicks={[0, 5, 10, 15]}
        q99={8.7} q95={6.25} control={[...eColumns, ...eControl]} other={eMalaria} bandData={band(eBandX, eBandLow, eBandHigh)} xTitle={[651, 642]} yTitle={[457, 502]} />
      <Scatterplot plot={[96.3, 679.3, 437, 906.3]} xDomain={[-67, 1418]} yDomain={[0, 15.93]} xTicks={[0, 500, 1000]} yTicks={[4, 8, 12]}
        q99={9.15} q95={6.9} control={[...nColumns, ...nControl]} other={nMalaria} bandData={band(nBandX, nBandLow, nBandHigh)} xTitle={[267, 935]} yTitle={[68, 792]} />
      <Scatterplot plot={[485.7, 682.7, 823.3, 909]} xDomain={[-66.5, 1401]} yDomain={[0.23, 14.42]} xTicks={[0, 500, 1000]} yTicks={[5, 10]}
        q99={8.3} q95={6.3} control={[...hColumns, ...hControl]} other={hMalaria} bandData={band(hBandX, hBandLow, hBandHigh)} xTitle={[656, 938]} yTitle={[458, 795]} />

      <Legend x={91} y={52} w={152} h={51} dotX={102} textX={114} dy1={64} dy2={89} second="COVID-19 IgG" />
      <Legend x={659} y={46} w={148} h={52} dotX={679} textX={693} dy1={58} dy2={83} second="Malaria IgG" />
      <Legend x={94} y={391} w={148} h={51} dotX={114} textX={128} dy1={403} dy2={429} second="Malaria IgG" />

      <div style={{ ...abs(69, 954), width: 752, height: 620, boxSizing: 'border-box', border: '1.5px solid #333' }} />
      <RunChart top={967} height={445.5} rows={rbdRows} runs={rowRuns} color={reapColor} gap={0} padding={{ top: 5.5, bottom: 2 }} />
      <RunChart top={1422} height={60} rows={['COV2 S1 IgG']} runs={[odRuns]} color={odColor} gap={5} padding={{ top: 0, bottom: 0 }} />
      <div style={{ ...abs(95, 1164), fontSize: 20.5, fontFamily: SANS, color: '#111', whiteSpace: 'nowrap', transform: 'translate(-50%,-50%) rotate(-90deg)' }}>Reactivity to human coronaviruses</div>
      <div style={{ ...abs(436, 1497), fontSize: 16.5, fontFamily: SANS, color: '#111', whiteSpace: 'nowrap', transform: 'translate(-50%,-50%)' }}>Subjects</div>

      <ColorBar x={709} y={1130} w={30} h={148} gradient={cssGradient(reapStops, 'to top')} title="REAP score" titleX={709} titleY={1120}
        ticks={reapTicks} tickYs={[1143, 1189, 1234, 1279]} labelX={747} marked={[true, true, true, false]} />
      <ColorBar x={711} y={1330} w={30} h={148} gradient={cssGradient(odStops, 'to bottom')} title="IgG OD" titleX={711} titleY={1320}
        ticks={odTicks} tickYs={[1332, 1366, 1401, 1434, 1479]} labelX={749} marked={[false, true, true, true, false]} />
    </div>
  )
}
